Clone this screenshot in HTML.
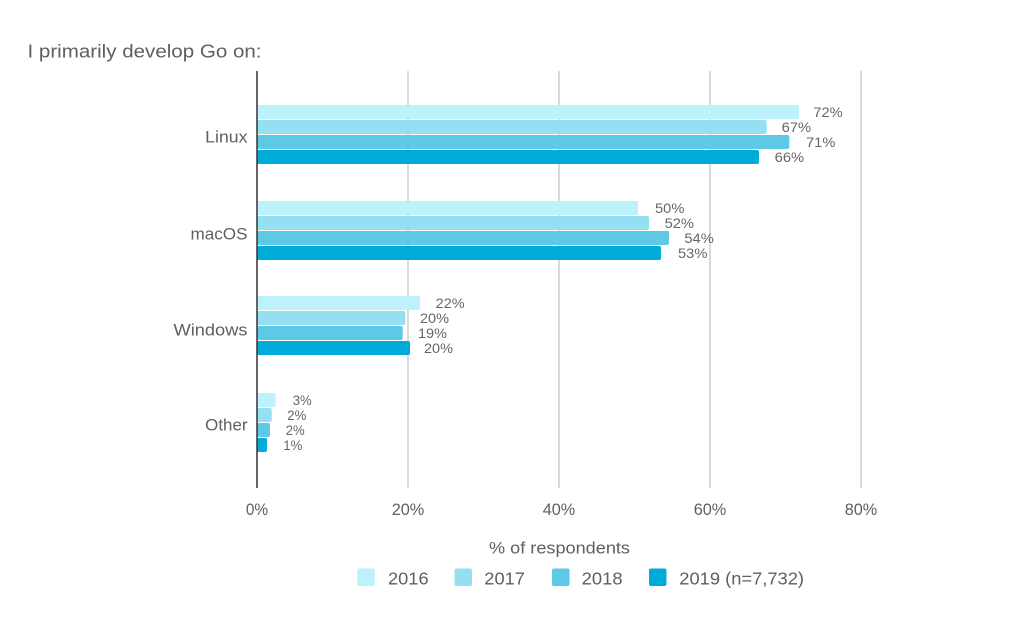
<!DOCTYPE html>
<html><head><meta charset="utf-8"><style>
html,body{margin:0;padding:0;background:#fff;}
svg{display:block;font-family:"Liberation Sans",Arial,sans-serif;}
</style></head><body>
<svg width="1031" height="617" viewBox="0 0 1031 617" xmlns="http://www.w3.org/2000/svg">
<rect width="1031" height="617" fill="#fff"/>
<text x="27.5" y="57.5" font-size="18" fill="#5f5f5f" textLength="234" lengthAdjust="spacingAndGlyphs">I primarily develop Go on:</text>
<!-- gridlines -->
<g stroke="#d0d0d0" stroke-width="1.6">
<line x1="408" y1="71" x2="408" y2="488"/>
<line x1="559" y1="71" x2="559" y2="488"/>
<line x1="710" y1="71" x2="710" y2="488"/>
<line x1="861" y1="71" x2="861" y2="488"/>
</g>
<!-- bars -->
<g>
<!-- Linux -->
<rect x="257" y="105" width="542" height="14" rx="2" fill="#bdf2fd"/>
<rect x="257" y="120" width="509.7" height="14" rx="2" fill="#94e0f2"/>
<rect x="257" y="135" width="532.3" height="14" rx="2" fill="#5ec9e4"/>
<rect x="257" y="150" width="502" height="14" rx="2" fill="#00acd7"/>
<!-- macOS -->
<rect x="257" y="201" width="381" height="14" rx="2" fill="#bdf2fd"/>
<rect x="257" y="216" width="392" height="14" rx="2" fill="#94e0f2"/>
<rect x="257" y="231" width="412" height="14" rx="2" fill="#5ec9e4"/>
<rect x="257" y="246" width="404" height="14" rx="2" fill="#00acd7"/>
<!-- Windows -->
<rect x="257" y="296" width="163" height="14" rx="2" fill="#bdf2fd"/>
<rect x="257" y="311" width="148.3" height="14" rx="2" fill="#94e0f2"/>
<rect x="257" y="326" width="145.7" height="14" rx="2" fill="#5ec9e4"/>
<rect x="257" y="341" width="153" height="14" rx="2" fill="#00acd7"/>
<!-- Other -->
<rect x="257" y="393" width="18.7" height="14" rx="2" fill="#bdf2fd"/>
<rect x="257" y="408" width="14.7" height="14" rx="2" fill="#94e0f2"/>
<rect x="257" y="423" width="13" height="14" rx="2" fill="#5ec9e4"/>
<rect x="257" y="438" width="10" height="14" rx="2" fill="#00acd7"/>
</g>
<!-- axis -->
<line x1="257" y1="71" x2="257" y2="488" stroke="#333" stroke-width="1.5"/>
<!-- value labels -->
<g font-size="14" fill="#666">
<text x="813.3" y="117" textLength="29.4" lengthAdjust="spacingAndGlyphs">72%</text>
<text x="781.7" y="132" textLength="29.4" lengthAdjust="spacingAndGlyphs">67%</text>
<text x="806" y="147" textLength="29.4" lengthAdjust="spacingAndGlyphs">71%</text>
<text x="774.7" y="162" textLength="29.4" lengthAdjust="spacingAndGlyphs">66%</text>
<text x="655" y="213" textLength="29.4" lengthAdjust="spacingAndGlyphs">50%</text>
<text x="664.6" y="228" textLength="29.4" lengthAdjust="spacingAndGlyphs">52%</text>
<text x="684.4" y="243" textLength="29.4" lengthAdjust="spacingAndGlyphs">54%</text>
<text x="678" y="258" textLength="29.4" lengthAdjust="spacingAndGlyphs">53%</text>
<text x="435.7" y="308" textLength="29" lengthAdjust="spacingAndGlyphs">22%</text>
<text x="420" y="323" textLength="29" lengthAdjust="spacingAndGlyphs">20%</text>
<text x="418" y="338" textLength="29" lengthAdjust="spacingAndGlyphs">19%</text>
<text x="424" y="353" textLength="29" lengthAdjust="spacingAndGlyphs">20%</text>
<text x="292.7" y="405" textLength="19" lengthAdjust="spacingAndGlyphs">3%</text>
<text x="287.3" y="420" textLength="19" lengthAdjust="spacingAndGlyphs">2%</text>
<text x="285.7" y="435" textLength="19" lengthAdjust="spacingAndGlyphs">2%</text>
<text x="283.3" y="450" textLength="19" lengthAdjust="spacingAndGlyphs">1%</text>
</g>
<!-- category labels -->
<g font-size="16.5" fill="#5f5f5f" text-anchor="end">
<text x="247.5" y="142.7" textLength="42.3" lengthAdjust="spacingAndGlyphs">Linux</text>
<text x="247.5" y="239.5" textLength="57" lengthAdjust="spacingAndGlyphs">macOS</text>
<text x="247.5" y="335.7" textLength="74" lengthAdjust="spacingAndGlyphs">Windows</text>
<text x="247.5" y="430.7" textLength="42.3" lengthAdjust="spacingAndGlyphs">Other</text>
</g>
<!-- x tick labels -->
<g font-size="16.5" fill="#5f5f5f" text-anchor="middle">
<text x="257" y="515" textLength="22.3" lengthAdjust="spacingAndGlyphs">0%</text>
<text x="408" y="515" textLength="32.6" lengthAdjust="spacingAndGlyphs">20%</text>
<text x="559" y="515" textLength="32.6" lengthAdjust="spacingAndGlyphs">40%</text>
<text x="710" y="515" textLength="32.6" lengthAdjust="spacingAndGlyphs">60%</text>
<text x="861" y="515" textLength="32.6" lengthAdjust="spacingAndGlyphs">80%</text>
</g>
<text x="489" y="553.3" font-size="16.5" fill="#5f5f5f" textLength="141" lengthAdjust="spacingAndGlyphs">% of respondents</text>
<!-- legend -->
<rect x="357.3" y="568.5" width="17.5" height="17.5" rx="2" fill="#bdf2fd"/>
<rect x="454.5" y="568.5" width="17.5" height="17.5" rx="2" fill="#94e0f2"/>
<rect x="552" y="568.5" width="17.5" height="17.5" rx="2" fill="#5ec9e4"/>
<rect x="649" y="568.5" width="17.5" height="17.5" rx="2" fill="#00acd7"/>
<g font-size="17.5" fill="#5f5f5f">
<text x="388" y="584.3" textLength="40.6" lengthAdjust="spacingAndGlyphs">2016</text>
<text x="484.3" y="584.3" textLength="40.6" lengthAdjust="spacingAndGlyphs">2017</text>
<text x="581.7" y="584.3" textLength="41" lengthAdjust="spacingAndGlyphs">2018</text>
<text x="679.3" y="584.3" textLength="124.7" lengthAdjust="spacingAndGlyphs">2019 (n=7,732)</text>
</g>
</svg>
</body></html>
